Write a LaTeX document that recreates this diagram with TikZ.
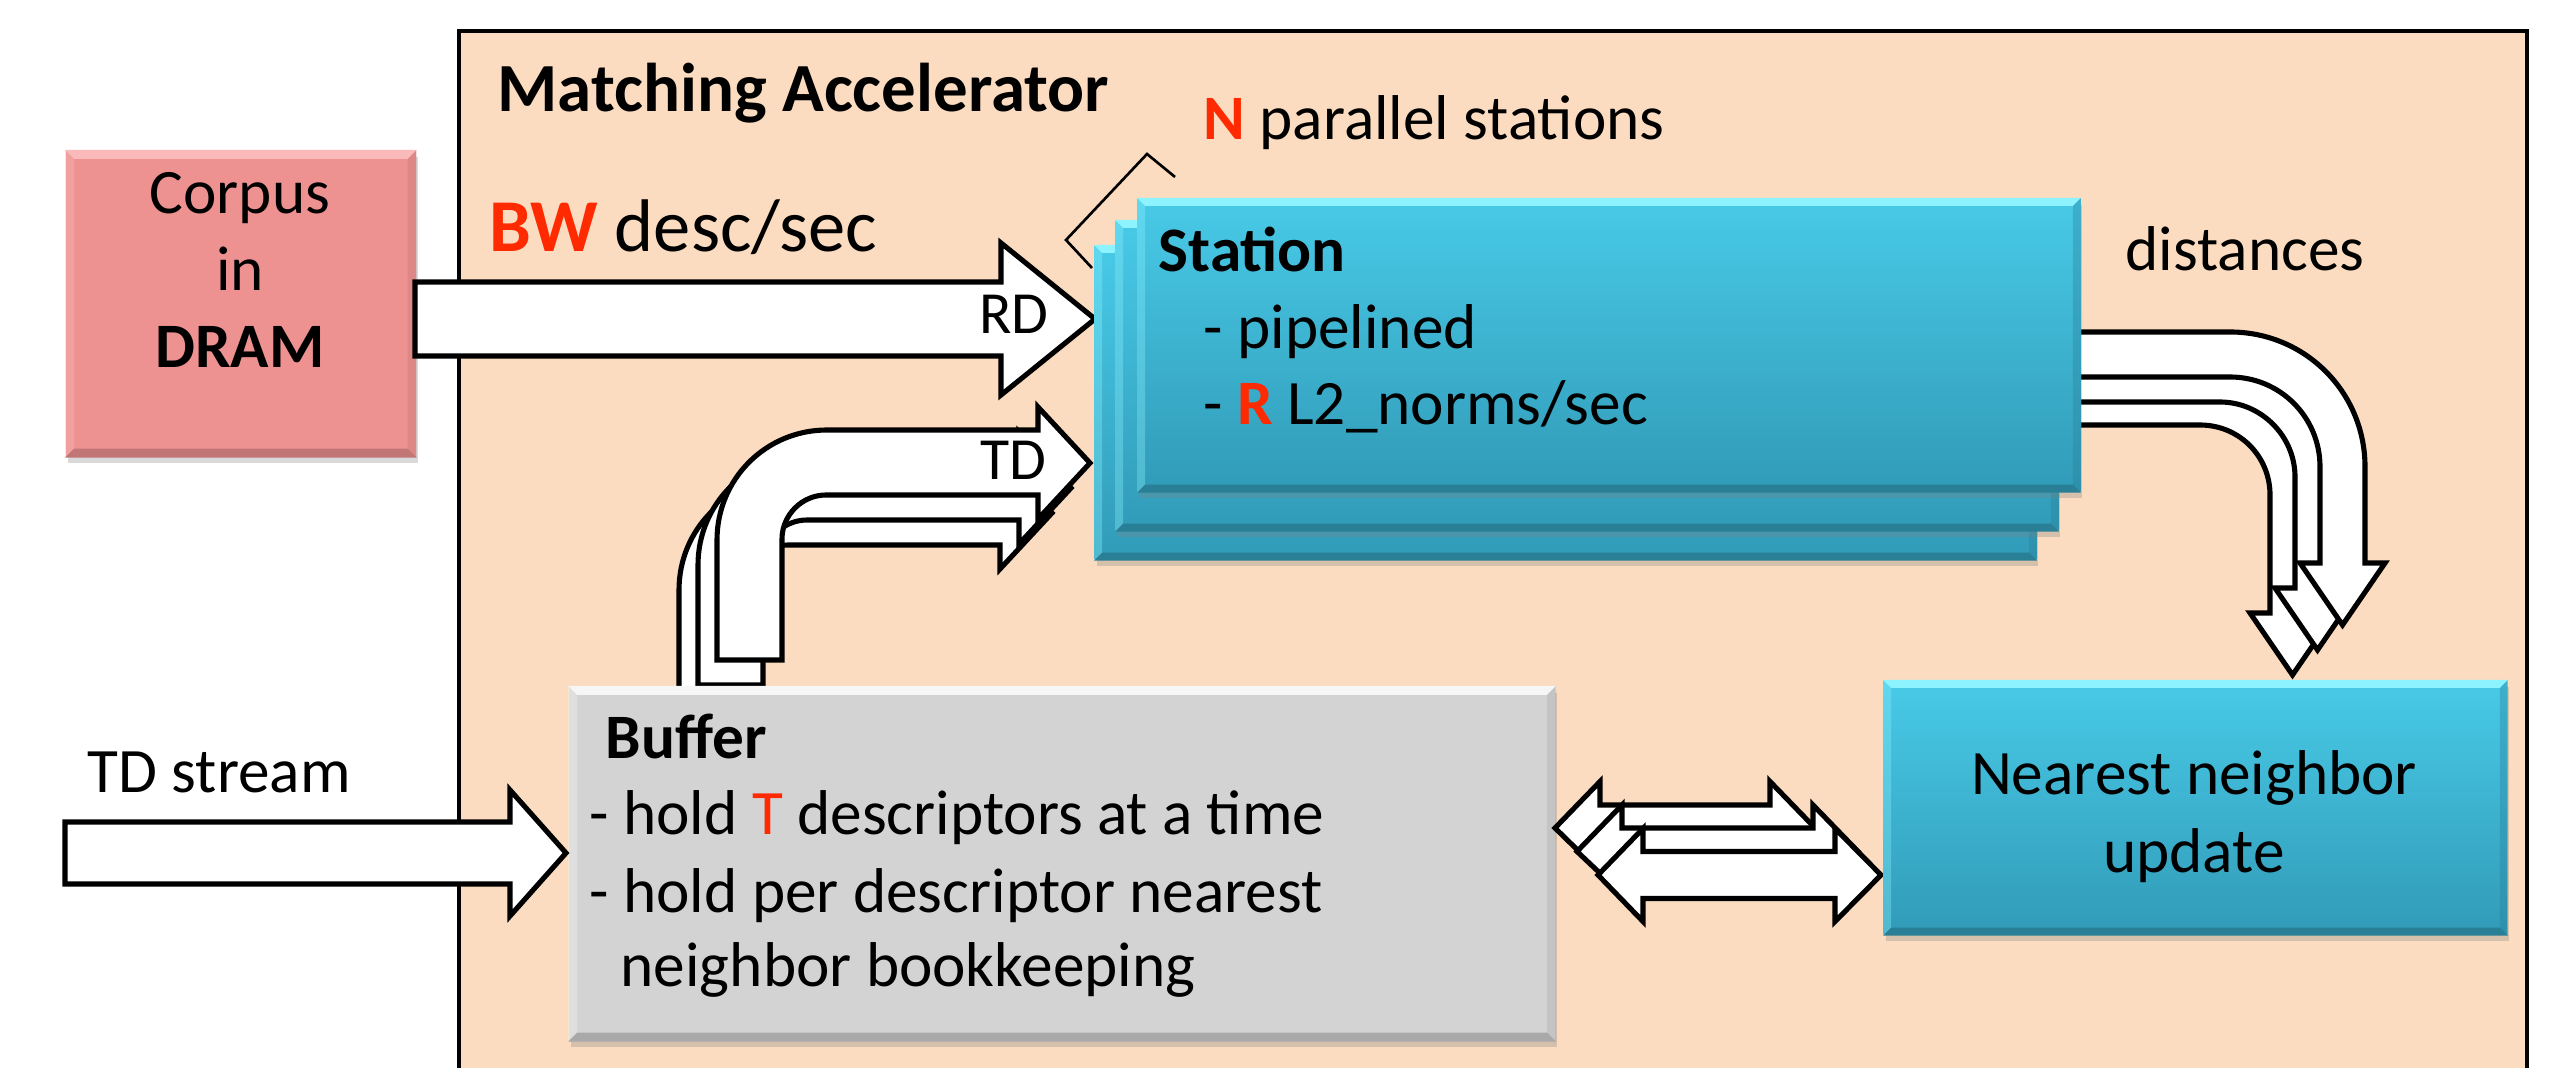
\documentclass[tikz,border=0pt]{standalone}
\usepackage{fontspec}
\setmainfont{Carlito}
\usetikzlibrary{shadows}
\definecolor{peach}{HTML}{FBDCC0}
\definecolor{cyantop}{HTML}{48CAE7}
\definecolor{cyanbot}{HTML}{319BB8}
\definecolor{cyanhi}{HTML}{8CF3FF}
\definecolor{cyanlo}{HTML}{287F96}
\definecolor{graymain}{HTML}{D3D3D3}
\definecolor{grayhi}{HTML}{F6F6F6}
\definecolor{graylo}{HTML}{A9A9A9}
\definecolor{salmon}{HTML}{EE9191}
\definecolor{salmonhi}{HTML}{FABABA}
\definecolor{salmonlo}{HTML}{C27575}
\definecolor{hired}{HTML}{FF2A00}
\tikzset{
  blockarrow/.style={draw=black, fill=white, line width=1.45pt, line join=miter},
  cyanbox/.style={rectangle, anchor=north west, inner sep=0pt, top color=cyantop, bottom color=cyanbot,
     drop shadow={opacity=0.3, shadow xshift=0.02cm, shadow yshift=-0.06cm}},
  graybox/.style={rectangle, anchor=north west, inner sep=0pt, fill=graymain,
     drop shadow={opacity=0.3, shadow xshift=0.02cm, shadow yshift=-0.06cm}},
  pinkbox/.style={rectangle, anchor=north west, inner sep=0pt, fill=salmon,
     drop shadow={opacity=0.3, shadow xshift=0.02cm, shadow yshift=-0.06cm}},
  lbl/.style={inner sep=0pt, anchor=base west, font=\fontsize{18}{20}\selectfont},
  lblc/.style={inner sep=0pt, anchor=base, font=\fontsize{18}{20}\selectfont},
}
\newcommand\bevelbox[4]{%
  \fill[#2] (#1.north west) -- (#1.north east) -- ([shift={(-#4,#4)}]#1.north east) -- ([shift={(#4,#4)}]#1.north west) -- cycle;
  \fill[#3] (#1.south west) -- (#1.south east) -- ([shift={(-#4,-#4)}]#1.south east) -- ([shift={(#4,-#4)}]#1.south west) -- cycle;
  \fill[#2, opacity=0.35] (#1.north west) -- ([shift={(#4,#4)}]#1.north west) -- ([shift={(#4,-#4)}]#1.south west) -- (#1.south west) -- cycle;
  \fill[#3, opacity=0.35] (#1.north east) -- ([shift={(-#4,#4)}]#1.north east) -- ([shift={(-#4,-#4)}]#1.south east) -- (#1.south east) -- cycle;
}
\newcommand\tdbent{%
  \draw[blockarrow] (717,660) -- (717,540)
     .. controls (717,479) and (766,430) .. (827,430)
     -- (1038,430) -- (1038,407) -- (1090,463) -- (1038,519) -- (1038,495) -- (826,495)
     .. controls (802,495) and (782,515) .. (782,539) -- (782,660) -- cycle;
}
\begin{document}
\begin{tikzpicture}[x=0.01cm, y=-0.01cm]
\useasboundingbox (0,0) rectangle (2552,1068);
\clip (0,0) rectangle (2552,1068);
% outer accelerator box
\draw[line width=1.35pt, fill=peach] (459,31) rectangle (2527,1120);
\node[lbl, anchor=base west, font=\fontsize{19.6}{21}\selectfont\bfseries] (title) at (497,112) {Matching Accelerator};

% corpus
\node[pinkbox, minimum width=3.5cm, minimum height=3.06cm] (corpus) at (65,150) {};
\bevelbox{corpus}{salmonhi}{salmonlo}{9}
\node[lblc] (corpus1) at (240,214) {Corpus};
\node[lblc] (corpus2) at (240,291) {in};
\node[lblc, font=\fontsize{18}{20}\selectfont\bfseries] (corpus3) at (240,368) {DRAM};

% RD arrow
\draw[blockarrow] (415,282) -- (1001,282) -- (1001,243) -- (1095,319) -- (1001,395) -- (1001,356) -- (415,356) -- cycle;
\node[lbl, anchor=base east, font=\fontsize{17}{20}\selectfont] (rd) at (1049,334) {RD};
\node[lbl, font=\fontsize{21.2}{24}\selectfont] (bw) at (489,252) {\textcolor{hired}{\bfseries BW} desc/sec};

% distance arrows (back to front)
\draw[blockarrow] (2000,380) -- (2200,380) .. controls (2263,380) and (2315,432) .. (2315,495)
   -- (2315,613) -- (2335,613) -- (2292.5,675) -- (2250,613) -- (2270,613) -- (2270,495)
   .. controls (2270,456) and (2239,425) .. (2200,425) -- (2000,425) -- cycle;
\draw[blockarrow] (2000,357) -- (2220,357) .. controls (2286,357) and (2340,411) .. (2340,477)
   -- (2340,588) -- (2360,588) -- (2317.5,650) -- (2275,588) -- (2295,588) -- (2295,477)
   .. controls (2295,436) and (2261,402) .. (2220,402) -- (2000,402) -- cycle;
\draw[blockarrow] (2000,332) -- (2230,332) .. controls (2305,332) and (2365,392) .. (2365,467)
   -- (2365,563) -- (2385,563) -- (2342.5,625) -- (2300,563) -- (2320,563) -- (2320,467)
   .. controls (2320,417) and (2280,377) .. (2230,377) -- (2000,377) -- cycle;
\node[lbl] (dist) at (2125,271) {distances};

% TD bent arrows (back to front)
\begin{scope}[shift={(-38,50)}]\tdbent\end{scope}
\begin{scope}[shift={(-19,25)}]\tdbent\end{scope}
\tdbent
\node[lbl, anchor=base east, font=\fontsize{17}{20}\selectfont] (td) at (1047,480) {TD};

% stations
\node[cyanbox, minimum width=9.41cm, minimum height=3.14cm] (st3) at (1094,245) {};
\bevelbox{st3}{cyanhi}{cyanlo}{8}
\node[cyanbox, minimum width=9.42cm, minimum height=3.10cm] (st2) at (1115,220) {};
\bevelbox{st2}{cyanhi}{cyanlo}{8}
\node[cyanbox, minimum width=9.42cm, minimum height=2.93cm] (st1) at (1137,198) {};
\bevelbox{st1}{cyanhi}{cyanlo}{8}
\node[lbl, font=\fontsize{18}{20}\selectfont\bfseries] (sttitle) at (1158,272) {Station};
\node[lbl] (st1a) at (1203,349) {- pipelined};
\node[lbl] (st1b) at (1203,425) {- \textcolor{hired}{\bfseries R} L2\_norms/sec};

% bracket and N parallel stations
\draw[line width=0.75pt] (1175,177) -- (1147,154) -- (1066,240) -- (1092,268);
\node[lbl] (npar) at (1203,140) {\textcolor{hired}{\bfseries N} parallel stations};

% buffer
\node[graybox, minimum width=9.86cm, minimum height=3.54cm] (buffer) at (568,686) {};
\bevelbox{buffer}{grayhi}{graylo}{9}
\node[lbl, font=\fontsize{18}{20}\selectfont\bfseries] (buft) at (605,759) {Buffer};
\node[lbl] (buf1) at (589,835) {- hold \textcolor{hired}{T} descriptors at a time};
\node[lbl] (buf2) at (589,913) {- hold per descriptor nearest};
\node[lbl] (buf3) at (620,987) {neighbor bookkeeping};

% double arrows (back to front)
\draw[blockarrow] (1555,828) -- (1600,781.5) -- (1600,805) -- (1770,805) -- (1770,781.5) -- (1815,828)
   -- (1772,872) -- (1772,851) -- (1600,851) -- (1600,872) -- cycle;
\draw[blockarrow] (1577,851.5) -- (1622,805) -- (1622,828) -- (1813,828) -- (1813,805) -- (1858,851.5)
   -- (1815,894) -- (1815,875) -- (1622,875) -- (1622,894) -- cycle;
\draw[blockarrow] (1598,875) -- (1643,828.5) -- (1643,851.5) -- (1835,851.5) -- (1835,828.5) -- (1881,875)
   -- (1835,921.5) -- (1835,898.5) -- (1643,898.5) -- (1643,921.5) -- cycle;

% nearest neighbor update
\node[cyanbox, minimum width=6.23cm, minimum height=2.54cm] (nn) at (1883,680) {};
\bevelbox{nn}{cyanhi}{cyanlo}{8}
\node[lblc] (nn1) at (2194,795) {Nearest neighbor};
\node[lblc] (nn2) at (2194,873) {update};

% TD stream
\draw[blockarrow] (65,822) -- (510,822) -- (510,790) -- (566,853) -- (510,916) -- (510,884) -- (65,884) -- cycle;
\node[lbl] (tds) at (87,793) {TD stream};
\end{tikzpicture}
\end{document}
